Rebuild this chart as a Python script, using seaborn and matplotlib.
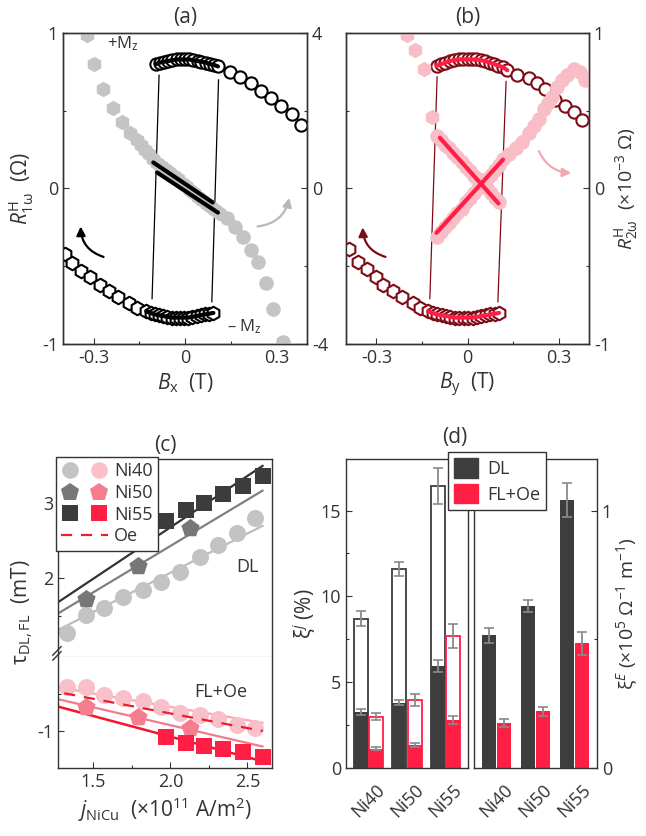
import matplotlib
matplotlib.use("Agg")
import matplotlib.pyplot as plt
from matplotlib.lines import Line2D
from matplotlib.patches import Patch
from matplotlib.legend_handler import HandlerTuple
import seaborn as sns
import pandas as pd

sns.set_theme(style="ticks")
plt.rcParams["font.family"] = ["Open Sans", "DejaVu Sans"]
plt.rcParams.update({
    "mathtext.fontset": "custom",
    "mathtext.rm": "Open Sans",
    "mathtext.it": "Open Sans:italic",
    "mathtext.bf": "Open Sans:bold",
    "axes.unicode_minus": False,
    "text.color": "#333333",
})

INK = "#333333"
GRAY_PT = "#c4c4c4"
MAROON = "#7d0c16"
PINK = "#f8bdc6"
RED = "#ff1f44"
DARK = "#3d3d3d"

# ---- panel (a): R_1w (left) and gray R_2w-type signal (right) vs Bx ----
a_top_x = [-0.095, -0.082, -0.068, -0.055, -0.041, -0.027, -0.014, 0.0, 0.014, 0.027, 0.041, 0.054,
           0.068, 0.081, 0.095, 0.108, 0.147, 0.18, 0.215, 0.25, 0.283, 0.316, 0.35, 0.38]
a_top_y = [0.80, 0.81, 0.815, 0.82, 0.825, 0.83, 0.83, 0.83, 0.83, 0.825, 0.82, 0.815,
           0.81, 0.80, 0.795, 0.785, 0.75, 0.72, 0.68, 0.63, 0.58, 0.53, 0.48, 0.41]
a_bot_x = [-0.395, -0.37, -0.34, -0.31, -0.28, -0.25, -0.22, -0.185, -0.157, -0.127, -0.113, -0.099,
           -0.085, -0.072, -0.058, -0.044, -0.031, -0.017, -0.003, 0.010, 0.024, 0.038, 0.051, 0.065,
           0.079, 0.093]
a_bot_y = [-0.42, -0.48, -0.53, -0.57, -0.62, -0.66, -0.70, -0.735, -0.77, -0.79, -0.80, -0.81,
           -0.815, -0.82, -0.825, -0.83, -0.83, -0.83, -0.83, -0.83, -0.825, -0.82, -0.815, -0.81,
           -0.805, -0.80]
a_sw_left_x, a_sw_left_y = [-0.085, -0.108], [0.73, -0.71]
a_sw_right_x, a_sw_right_y = [0.11, 0.088], [0.70, -0.73]

a_gray_hex_x = [-0.32, -0.30, -0.27, -0.235, -0.205, -0.18, -0.157, -0.145, -0.132, -0.118, -0.105,
                -0.091, -0.078, -0.064, -0.051, -0.037, -0.024, -0.010, 0.003, 0.017, 0.030, 0.044,
                0.057, 0.071, 0.084, 0.098, 0.111]
a_gray_hex_y = [3.96, 3.19, 2.55, 2.08, 1.70, 1.44, 1.26, 1.12, 1.00, 0.88, 0.77,
                0.66, 0.58, 0.50, 0.42, 0.33, 0.24, 0.15, 0.06, -0.03, -0.12, -0.21,
                -0.30, -0.39, -0.47, -0.55, -0.63]
a_gray_circ_x = [0.137, 0.163, 0.19, 0.218, 0.24, 0.267, 0.29, 0.32]
a_gray_circ_y = [-0.75, -0.98, -1.26, -1.57, -1.9, -2.42, -3.11, -3.94]
a_fit_up_x, a_fit_up_y = [-0.104, 0.091], [0.67, -0.36]
a_fit_lo_x, a_fit_lo_y = [-0.091, 0.108], [0.41, -0.62]

# ---- panel (b): same vs By ----
b_top_x = [-0.102, -0.087, -0.073, -0.058, -0.044, -0.029, -0.014, 0.0, 0.015, 0.029, 0.044, 0.058,
           0.073, 0.087, 0.102, 0.117, 0.131, 0.164, 0.202, 0.229, 0.256, 0.289, 0.322, 0.349, 0.376]
b_top_y = [0.79, 0.80, 0.81, 0.82, 0.825, 0.83, 0.83, 0.83, 0.83, 0.83, 0.825, 0.82,
           0.81, 0.80, 0.79, 0.78, 0.76, 0.73, 0.71, 0.68, 0.64, 0.57, 0.53, 0.49, 0.44]
b_bot_x = [-0.39, -0.36, -0.33, -0.30, -0.277, -0.245, -0.215, -0.18, -0.157, -0.13, -0.115, -0.1,
           -0.085, -0.07, -0.056, -0.041, -0.027, -0.012, 0.003, 0.017, 0.032, 0.046, 0.061, 0.075,
           0.09, 0.104]
b_bot_y = [-0.39, -0.47, -0.52, -0.57, -0.62, -0.66, -0.70, -0.735, -0.77, -0.79, -0.80, -0.81,
           -0.815, -0.82, -0.825, -0.83, -0.83, -0.83, -0.83, -0.83, -0.825, -0.82, -0.815, -0.81,
           -0.805, -0.80]
b_sw_left_x, b_sw_left_y = [-0.10, -0.124], [0.72, -0.71]
b_sw_right_x, b_sw_right_y = [0.127, 0.10], [0.69, -0.73]

b_pink_hex_x = [-0.2, -0.173, -0.143, -0.118]
b_pink_hex_y = [0.99, 0.89, 0.77, 0.46]
b_pink_down_x = [-0.102, -0.088, -0.074, -0.061, -0.047, -0.033, -0.019, -0.006, 0.008, 0.022,
                 0.035, 0.049, 0.063, 0.076, 0.090, 0.104]
b_pink_down_y = [0.34, 0.31, 0.28, 0.26, 0.23, 0.20, 0.17, 0.14, 0.11, 0.08,
                 0.06, 0.03, 0.00, -0.03, -0.06, -0.09]
b_pink_up_x = [-0.102, -0.088, -0.074, -0.061, -0.047, -0.033, -0.019, -0.006, 0.008, 0.022,
               0.035, 0.049, 0.063, 0.076, 0.090, 0.104, 0.117, 0.137, 0.159, 0.18, 0.202,
               0.218, 0.235, 0.251, 0.265, 0.278, 0.294, 0.311, 0.327, 0.349, 0.37, 0.387]
b_pink_up_y = [-0.31, -0.28, -0.25, -0.22, -0.19, -0.16, -0.13, -0.09, -0.06, -0.03,
               0.00, 0.03, 0.06, 0.09, 0.12, 0.15, 0.19, 0.22, 0.26, 0.30, 0.36,
               0.40, 0.45, 0.51, 0.55, 0.59, 0.65, 0.70, 0.73, 0.77, 0.75, 0.70]
b_fit_down_x, b_fit_down_y = [-0.091, 0.102], [0.326, -0.096]
b_fit_up_x, b_fit_up_y = [-0.102, 0.117], [-0.285, 0.186]

# ---- panel (c): torques vs current density ----
c40_x = [1.33, 1.455, 1.57, 1.695, 1.82, 1.94, 2.065, 2.19, 2.31, 2.43, 2.55]
c40_dl = [1.27, 1.51, 1.60, 1.75, 1.85, 1.95, 2.08, 2.28, 2.44, 2.61, 2.81]
c40_fl = [-0.41, -0.41, -0.51, -0.55, -0.60, -0.67, -0.76, -0.79, -0.84, -0.92, -0.96]
c50_x = [1.455, 1.79, 2.13]
c50_dl = [1.73, 2.17, 2.67]
c50_fl = [-0.68, -0.81, -0.96]
c55_x = [1.97, 2.10, 2.22, 2.34, 2.47, 2.60]
c55_dl = [2.76, 2.91, 3.00, 3.12, 3.23, 3.36]
c55_fl = [-1.08, -1.16, -1.20, -1.24, -1.28, -1.35]
fit_x = [1.27, 2.60]
fit40_dl, fit50_dl, fit55_dl = [1.31, 2.70], [1.53, 3.17], [1.68, 3.50]
fit40_fl, fit50_fl, fit55_fl = [-0.41, -0.89], [-0.57, -1.21], [-0.67, -1.41]
oe_x, oe_y = [1.31, 2.60], [-0.49, -1.0]

# ---- panel (d): efficiencies ----
samples = ["Ni40", "Ni50", "Ni55"]
xij_dl_tot = [8.7, 11.6, 16.4]
xij_dl_tot_err = [0.45, 0.42, 1.05]
xij_fl_tot = [3.0, 3.95, 7.7]
xij_fl_tot_err = [0.22, 0.35, 0.7]
xij_dl = [3.25, 3.8, 5.95]
xij_dl_err = [0.18, 0.14, 0.37]
xij_fl = [1.12, 1.32, 2.8]
xij_fl_err = [0.09, 0.12, 0.25]
xie_dl = [0.515, 0.63, 1.04]
xie_dl_err = [0.028, 0.023, 0.066]
xie_fl = [0.176, 0.22, 0.485]
xie_fl_err = [0.015, 0.018, 0.045]

W, H = 646, 836


def fbox(x0, y0, x1, y1):
    return [x0 / W, 1 - y1 / H, (x1 - x0) / W, (y1 - y0) / H]


def style(ax, labelsize=13):
    ax.tick_params(which="both", direction="in", color=INK, labelcolor=INK,
                   labelsize=labelsize, width=0.8)
    ax.tick_params(which="major", length=4)
    ax.tick_params(which="minor", length=2.5)
    for s in ax.spines.values():
        s.set_color(INK)
        s.set_linewidth(1.0)


def curved_arrow(ax, tail, head, color, rad):
    ax.annotate("", xy=head, xytext=tail,
                arrowprops=dict(arrowstyle="-|>", color=color, lw=1.6, mutation_scale=13,
                                shrinkA=0, shrinkB=0, connectionstyle=f"arc3,rad={rad}"))


def field_panel(ax, ax2, top_x, top_y, bot_x, bot_y, swl, swr, mk_color, fit_color, n_top):
    ax.set_xlim(-0.4, 0.4)
    ax.set_ylim(-1, 1)
    ax.plot(*swl, color=mk_color, lw=0.9, zorder=1)
    ax.plot(*swr, color=mk_color, lw=0.9, zorder=1)
    sns.scatterplot(x=top_x, y=top_y, marker="o", s=78, color="white", edgecolor=mk_color,
                    linewidth=1.5, ax=ax, zorder=3, legend=False)
    sns.scatterplot(x=bot_x, y=bot_y, marker="h", s=95, color="white", edgecolor=mk_color,
                    linewidth=1.5, ax=ax, zorder=3, legend=False)
    ax.plot(top_x[:n_top], top_y[:n_top], color=fit_color, lw=3, zorder=4, solid_capstyle="round")
    ax.plot(bot_x[9:], bot_y[9:], color=fit_color, lw=3, zorder=4, solid_capstyle="round")
    ax.set_xticks([-0.3, 0, 0.3])
    ax.set_xticklabels(["-0.3", "0", "0.3"])
    ax.set_xticks([-0.15, 0.15], minor=True)
    ax.set_yticks([-1, 0, 1])
    ax.set_yticks([-0.5, 0.5], minor=True)
    style(ax)
    style(ax2)


fig = plt.figure(figsize=(W / 100, H / 100), dpi=100)

# ---------------- (a) ----------------
axA = fig.add_axes(fbox(63, 33, 307, 344))
axA2 = axA.twinx()
field_panel(axA, axA2, a_top_x, a_top_y, a_bot_x, a_bot_y, (a_sw_left_x, a_sw_left_y),
            (a_sw_right_x, a_sw_right_y), "black", "black", 16)
axA.set_yticklabels(["-1", "0", "1"])
axA2.set_ylim(-4, 4)
axA2.set_yticks([-4, 0, 4])
axA2.set_yticklabels(["-4", "0", "4"])
axA2.set_yticks([-2, 2], minor=True)
sns.scatterplot(x=a_gray_hex_x, y=a_gray_hex_y, marker="h", s=125, color=GRAY_PT, linewidth=0,
                ax=axA2, zorder=2, legend=False)
sns.scatterplot(x=a_gray_circ_x, y=a_gray_circ_y, marker="o", s=110, color=GRAY_PT, linewidth=0,
                ax=axA2, zorder=2, legend=False)
axA2.plot(a_fit_up_x, a_fit_up_y, color="black", lw=3, zorder=4)
axA2.plot(a_fit_lo_x, a_fit_lo_y, color="black", lw=3, zorder=4)
curved_arrow(axA, (-0.267, -0.44), (-0.342, -0.244), "black", -0.35)
curved_arrow(axA, (0.238, -0.244), (0.342, -0.06), "#b8b8b8", 0.35)
axA.text(-0.205, 0.93, "+M$_{\\rm z}$", fontsize=12, ha="center", va="center", color=INK)
axA.text(0.196, -0.89, "– M$_{\\rm z}$", fontsize=12, ha="center", va="center", color=INK)
axA.set_title("(a)", fontsize=15, pad=7, color=INK)
axA.set_xlabel(r"$B_{\rm x}$  (T)", fontsize=15, labelpad=3, color=INK)
axA.set_ylabel("$R^{\\rm H}_{\\rm 1ω}$  (Ω)", fontsize=15, labelpad=4, color=INK)

# ---------------- (b) ----------------
axB = fig.add_axes(fbox(346, 33, 589, 344))
axB2 = axB.twinx()
field_panel(axB, axB2, b_top_x, b_top_y, b_bot_x, b_bot_y, (b_sw_left_x, b_sw_left_y),
            (b_sw_right_x, b_sw_right_y), MAROON, RED, 17)
axB.set_yticklabels([])
axB2.set_ylim(-1, 1)
axB2.set_yticks([-1, 0, 1])
axB2.set_yticklabels(["-1", "0", "1"])
axB2.set_yticks([-0.5, 0.5], minor=True)
sns.scatterplot(x=b_pink_hex_x, y=b_pink_hex_y, marker="h", s=125, color=PINK, linewidth=0,
                ax=axB2, zorder=2, legend=False)
sns.scatterplot(x=b_pink_down_x, y=b_pink_down_y, marker="o", s=110, color=PINK, linewidth=0,
                ax=axB2, zorder=2, legend=False)
sns.scatterplot(x=b_pink_up_x, y=b_pink_up_y, marker="o", s=110, color=PINK, linewidth=0,
                ax=axB2, zorder=2, legend=False)
axB2.plot(b_fit_down_x, b_fit_down_y, color=RED, lw=3, zorder=4)
axB2.plot(b_fit_up_x, b_fit_up_y, color=RED, lw=3, zorder=4)
curved_arrow(axB, (-0.27, -0.44), (-0.345, -0.25), MAROON, -0.35)
curved_arrow(axB, (0.235, 0.24), (0.342, 0.10), "#f6a6b3", 0.3)
axB.set_title("(b)", fontsize=15, pad=7, color=INK)
axB.set_xlabel(r"$B_{\rm y}$  (T)", fontsize=15, labelpad=3, color=INK)
axB2.set_ylabel("$R^{\\rm H}_{\\rm 2ω}$  (×10$^{-3}$ Ω)", fontsize=14, labelpad=2, color=INK)

# ---------------- (c) ----------------
axC1 = fig.add_axes(fbox(58, 459, 272, 657))
axC2 = fig.add_axes(fbox(58, 657, 272, 768))
for ax in (axC1, axC2):
    ax.set_xlim(1.27, 2.66)
    style(ax)
axC1.set_ylim(0.95, 3.59)
axC2.set_ylim(-1.5, 0.0)

axC1.plot(fit_x, fit40_dl, color="#bdbdbd", lw=1.6, zorder=1)
axC1.plot(fit_x, fit50_dl, color="#808080", lw=1.6, zorder=1)
axC1.plot(fit_x, fit55_dl, color="#333333", lw=1.6, zorder=1)
sns.scatterplot(x=c40_x, y=c40_dl, marker="o", s=150, color="#c3c3c3", linewidth=0, ax=axC1,
                zorder=2, legend=False)
sns.scatterplot(x=c50_x, y=c50_dl, marker="p", s=190, color="#777777", linewidth=0, ax=axC1,
                zorder=2, legend=False)
sns.scatterplot(x=c55_x, y=c55_dl, marker="s", s=125, color="#3c3c3c", linewidth=0, ax=axC1,
                zorder=2, legend=False)

axC2.plot(fit_x, fit40_fl, color="#f7a9b5", lw=1.6, zorder=1)
axC2.plot(fit_x, fit50_fl, color="#f47a8e", lw=1.6, zorder=1)
axC2.plot(fit_x, fit55_fl, color="#f5142a", lw=1.8, zorder=1)
axC2.plot(oe_x, oe_y, color="#e8202a", lw=1.6, ls=(0, (5, 4)), zorder=3)
sns.scatterplot(x=c40_x, y=c40_fl, marker="o", s=150, color="#f9c0c9", linewidth=0, ax=axC2,
                zorder=2, legend=False)
sns.scatterplot(x=c50_x, y=c50_fl, marker="p", s=190, color="#f47e90", linewidth=0, ax=axC2,
                zorder=2, legend=False)
sns.scatterplot(x=c55_x, y=c55_fl, marker="s", s=125, color=RED, linewidth=0, ax=axC2,
                zorder=2, legend=False)

axC1.set_xticks([])
axC1.spines["bottom"].set_color("#cccccc")
axC1.set_yticks([2, 3])
axC1.set_yticklabels(["2", "3"])
axC1.set_yticks([1.5, 2.5, 3.5], minor=True)
axC2.spines["top"].set_visible(False)
axC2.set_yticks([-1])
axC2.set_yticklabels(["-1"])
axC2.set_yticks([-0.5], minor=True)
axC2.set_xticks([1.5, 2.0, 2.5])
axC2.set_xticklabels(["1.5", "2.0", "2.5"])
axC2.set_xticks([1.75, 2.25], minor=True)
for dy in (0.0, 0.045):
    axC2.plot([-0.025, 0.015], [0.97 + dy, 1.05 + dy], transform=axC2.transAxes, color=INK,
              lw=1.0, clip_on=False, zorder=6)

axC1.text(2.5, 2.15, "DL", fontsize=13, ha="center", va="center", color=INK)
axC2.text(2.325, -0.47, "FL+Oe", fontsize=13, ha="center", va="center", color=INK)
axC1.set_title("(c)", fontsize=15, pad=6, color=INK)
axC2.set_xlabel(r"$j_{\rm NiCu}$  (×10$^{11}$ A/m$^2$)", fontsize=15, labelpad=3, color=INK)
fig.text(22 / W, 1 - 612 / H, r"τ$_{\rm DL,FL}$  (mT)", rotation=90, fontsize=15,
         ha="center", va="center", color=INK)

leg_handles = [
    (Line2D([], [], ls="none", marker="o", ms=12, color="#c3c3c3", mew=0),
     Line2D([], [], ls="none", marker="o", ms=12, color="#f9c0c9", mew=0)),
    (Line2D([], [], ls="none", marker="p", ms=13.5, color="#777777", mew=0),
     Line2D([], [], ls="none", marker="p", ms=13.5, color="#f47e90", mew=0)),
    (Line2D([], [], ls="none", marker="s", ms=11, color="#3c3c3c", mew=0),
     Line2D([], [], ls="none", marker="s", ms=11, color=RED, mew=0)),
    Line2D([], [], color="#e8202a", lw=1.6, ls=(0, (5, 4))),
]
legC = axC1.legend(leg_handles, ["Ni40", "Ni50", "Ni55", "Oe"],
                   handler_map={tuple: HandlerTuple(ndivide=None, pad=0.6)},
                   loc="upper left", bbox_to_anchor=(56 / W, 1 - 457 / H),
                   bbox_transform=fig.transFigure, frameon=True, fancybox=False,
                   edgecolor=INK, framealpha=1, fontsize=13, handlelength=2.6,
                   handletextpad=0.3, labelspacing=0.2, borderpad=0.3, borderaxespad=0)
legC.get_frame().set_linewidth(1.0)
legC.set_zorder(10)

# ---------------- (d) ----------------
axD1 = fig.add_axes(fbox(346, 459, 468, 768))
axD2 = fig.add_axes(fbox(474, 459, 597, 768))

kinds = ["DL"] * 3 + ["FL+Oe"] * 3
df_tot = pd.DataFrame({"sample": samples * 2, "kind": kinds,
                       "value": xij_dl_tot + xij_fl_tot})
df_j = pd.DataFrame({"sample": samples * 2, "kind": kinds, "value": xij_dl + xij_fl})
df_e = pd.DataFrame({"sample": samples * 2, "kind": kinds, "value": xie_dl + xie_fl})
bar_kw = dict(x="sample", y="value", hue="kind", hue_order=["DL", "FL+Oe"], order=samples,
              errorbar=None, gap=0.1, saturation=1, legend=False)

sns.barplot(data=df_tot, palette=["white", "white"], linewidth=1.3, ax=axD1, **bar_kw)
for bar in axD1.containers[0]:
    bar.set_edgecolor(DARK)
for bar in axD1.containers[1]:
    bar.set_edgecolor(RED)
sns.barplot(data=df_j, palette=[DARK, RED], linewidth=0, ax=axD1, **bar_kw)
sns.barplot(data=df_e, palette=[DARK, RED], linewidth=0, ax=axD2, **bar_kw)

d1_bars = list(axD1.containers[:4])
d2_bars = list(axD2.containers[:2])
for cont, errs in zip(d1_bars, [xij_dl_tot_err, xij_fl_tot_err, xij_dl_err, xij_fl_err]):
    xs = [b.get_x() + b.get_width() / 2 for b in cont]
    ys = [b.get_height() for b in cont]
    axD1.errorbar(xs, ys, yerr=errs, fmt="none", ecolor="#8a8a8a", elinewidth=1.3,
                  capsize=3.5, capthick=1.2, zorder=5)
for cont, errs in zip(d2_bars, [xie_dl_err, xie_fl_err]):
    xs = [b.get_x() + b.get_width() / 2 for b in cont]
    ys = [b.get_height() for b in cont]
    axD2.errorbar(xs, ys, yerr=errs, fmt="none", ecolor="#8a8a8a", elinewidth=1.3,
                  capsize=3.5, capthick=1.2, zorder=5)

for ax in (axD1, axD2):
    ax.set_xlim(-0.58, 2.58)
    ax.set_xlabel("")
    ax.set_ylabel("")
    style(ax)
    ax.set_xticks(range(3))
    ax.set_xticklabels(samples, rotation=45, ha="center")
    ax.tick_params(axis="x", length=0, pad=9)
axD1.set_ylim(0, 18)
axD1.set_yticks([0, 5, 10, 15])
axD1.set_yticklabels(["0", "5", "10", "15"])
axD1.set_yticks([2.5, 7.5, 12.5], minor=True)
axD2.set_ylim(0, 1.2)
axD2.yaxis.tick_right()
axD2.yaxis.set_label_position("right")
axD2.set_yticks([0, 1])
axD2.set_yticklabels(["0", "1"])
axD2.set_yticks([0.5], minor=True)
axD1.set_ylabel("ξ$^{j}$ (%)", fontsize=15, labelpad=2, color=INK)
axD2.set_ylabel("ξ$^{E}$ (×10$^5$ Ω$^{-1}$ m$^{-1}$)", fontsize=14, labelpad=2, color=INK)
fig.text(455 / W, 1 - 437 / H, "(d)", fontsize=15, ha="center", va="center", color=INK)

legD = fig.legend([Patch(color=DARK), Patch(color=RED)], ["DL", "FL+Oe"], loc="upper left",
                  bbox_to_anchor=(448 / W, 1 - 452 / H), frameon=True, fancybox=False,
                  edgecolor=INK, framealpha=1, fontsize=13, handlelength=1.3, handleheight=1.3,
                  handletextpad=0.5, labelspacing=0.3, borderpad=0.35, borderaxespad=0)
legD.get_frame().set_linewidth(1.0)

fig.savefig("out.png", dpi=100)
